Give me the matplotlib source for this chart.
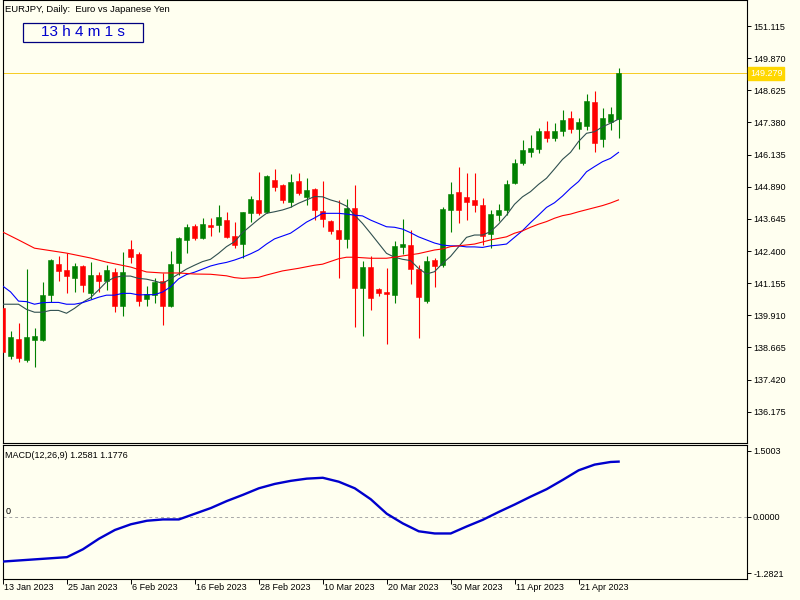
import matplotlib
matplotlib.use("Agg")
import matplotlib.pyplot as plt
import matplotlib.patches as mpatches
import matplotlib.transforms as mtrans
import numpy as np

plt.rcParams['font.family'] = ['Liberation Sans', 'DejaVu Sans']

# ---------------- data ----------------
opens = [140.21, 138.33, 138.99, 138.18, 138.95, 138.95, 140.70, 141.90, 141.67, 141.36,
         141.82, 140.77, 141.47, 141.24, 141.59, 140.27, 142.48, 142.29, 140.54, 140.70,
         141.24, 140.27, 141.94, 142.83, 143.37, 142.90, 143.41, 143.41, 143.60, 142.98,
         142.67, 143.87, 144.38, 143.91, 145.15, 144.96, 144.30, 145.11, 144.49, 144.80,
         143.95, 143.56, 143.21, 142.86, 144.07, 140.97, 141.78, 140.93, 140.81, 140.70,
         142.56, 142.63, 141.70, 140.46, 142.05, 141.86, 143.99, 144.69, 144.49, 144.38,
         144.18, 143.06, 143.79, 143.99, 145.03, 145.81, 146.24, 146.35, 147.05, 146.78,
         147.05, 147.55, 147.13, 147.24, 148.17, 146.74, 147.40, 147.51]
highs = [140.25, 139.30, 139.61, 141.70, 139.42, 141.20, 142.09, 142.21, 142.32, 141.94,
         141.84, 141.97, 141.59, 141.86, 141.74, 142.36, 142.83, 142.36, 141.05, 141.36,
         141.55, 142.40, 142.94, 143.45, 143.45, 143.68, 143.68, 144.18, 143.91, 143.52,
         143.93, 144.53, 145.46, 145.35, 145.58, 144.99, 145.39, 145.42, 145.23, 144.84,
         145.11, 143.60, 144.38, 144.41, 144.96, 142.01, 142.21, 140.97, 141.74, 142.79,
         143.64, 143.21, 141.86, 142.21, 142.13, 144.11, 145.07, 145.65, 145.42, 145.42,
         144.45, 143.99, 144.22, 145.15, 145.97, 146.70, 146.89, 147.17, 147.44, 147.36,
         147.86, 147.82, 147.55, 148.48, 148.60, 147.94, 147.98, 149.49]
lows = [138.45, 138.22, 138.10, 138.10, 137.91, 138.93, 140.43, 141.24, 140.77, 140.81,
        140.81, 140.54, 140.81, 140.89, 140.04, 139.88, 141.94, 140.27, 140.27, 140.39,
        139.54, 140.25, 141.47, 142.32, 142.83, 142.88, 142.98, 143.14, 142.92, 142.52,
        142.13, 143.52, 143.79, 143.89, 144.72, 144.26, 144.11, 144.57, 144.18, 143.60,
        143.33, 143.06, 141.36, 142.52, 139.46, 139.11, 140.12, 140.66, 138.80, 140.39,
        142.29, 141.12, 139.03, 140.39, 141.01, 141.78, 143.14, 143.49, 143.60, 143.91,
        142.63, 142.52, 143.56, 143.79, 145.01, 145.73, 146.04, 146.20, 146.62, 146.66,
        146.86, 146.97, 146.35, 147.09, 146.24, 146.43, 147.09, 146.78]
closes = [138.50, 139.07, 138.26, 139.07, 139.11, 140.70, 142.05, 141.63, 141.43, 141.82,
          141.08, 141.47, 141.24, 141.67, 140.27, 141.59, 142.17, 140.46, 140.74, 141.20,
          140.27, 141.90, 142.90, 143.33, 142.90, 143.45, 143.33, 143.72, 142.94, 142.63,
          143.91, 144.41, 143.87, 145.31, 144.88, 144.38, 145.07, 144.65, 144.76, 143.99,
          143.64, 143.17, 142.86, 144.07, 140.97, 141.78, 140.58, 140.77, 140.73, 142.59,
          142.67, 141.70, 140.62, 142.01, 141.82, 144.03, 144.61, 143.99, 144.30, 144.18,
          142.98, 143.83, 143.99, 145.00, 145.81, 146.31, 146.39, 147.05, 146.78, 147.05,
          147.47, 147.13, 147.40, 148.21, 146.58, 147.55, 147.71, 149.279]

ma_fast = [140.34, 140.34, 140.34, 140.14, 140.03, 140.03, 140.10, 140.10, 139.99, 140.18,
           140.41, 140.59, 140.89, 141.21, 141.38, 141.43, 141.43, 141.34, 141.31, 141.24,
           141.15, 141.32, 141.51, 141.70, 141.85, 141.99, 142.08, 142.31, 142.57, 142.76,
           143.11, 143.37, 143.63, 143.86, 143.92, 143.99, 144.09, 144.25, 144.38, 144.51,
           144.50, 144.38, 144.29, 144.14, 143.79, 143.47, 143.09, 142.70, 142.31, 142.16,
           142.08, 142.03, 141.73, 141.51, 141.60, 141.92, 142.19, 142.56, 142.93, 143.02,
           143.02, 143.15, 143.44, 143.79, 144.21, 144.50, 144.70, 144.98, 145.22, 145.58,
           145.95, 146.22, 146.64, 146.96, 147.02, 147.21, 147.35, 147.51]
ma_mid = [141.05, 140.82, 140.46, 140.44, 140.34, 140.40, 140.41, 140.41, 140.34, 140.34,
          140.40, 140.50, 140.61, 140.69, 140.69, 140.76, 140.76, 140.70, 140.71, 140.71,
          140.81, 141.01, 141.32, 141.49, 141.58, 141.70, 141.82, 141.90, 141.96, 142.05,
          142.16, 142.29, 142.44, 142.67, 142.87, 142.98, 143.09, 143.30, 143.52, 143.68,
          143.86, 143.86, 143.86, 143.83, 143.79, 143.76, 143.60, 143.47, 143.34, 143.32,
          143.25, 143.11, 142.95, 142.83, 142.71, 142.63, 142.60, 142.60, 142.56, 142.56,
          142.54, 142.60, 142.63, 142.67, 142.93, 143.19, 143.50, 143.79, 144.09, 144.27,
          144.53, 144.83, 145.09, 145.47, 145.67, 145.86, 145.99, 146.22]
ma_slow_idx = [0, 2, 4, 8, 11, 13, 16, 18, 20, 22, 24, 26, 28, 29, 30, 32, 33, 35, 36, 37,
               38, 39, 40, 42, 43, 44, 46, 48, 49, 50, 52, 54, 55, 56, 57, 59, 61, 62, 63,
               64, 65, 66, 67, 68, 69, 70, 71, 72, 73, 74, 75, 76, 77]
ma_slow = [143.14, 142.83, 142.51, 142.32, 142.13, 141.97, 141.78, 141.59, 141.55, 141.55,
           141.51, 141.50, 141.44, 141.37, 141.34, 141.38, 141.47, 141.63, 141.68, 141.73,
           141.79, 141.85, 141.89, 142.10, 142.16, 142.16, 142.12, 142.12, 142.16, 142.21,
           142.30, 142.44, 142.48, 142.57, 142.60, 142.67, 142.83, 142.89, 142.95, 143.09,
           143.18, 143.32, 143.44, 143.54, 143.67, 143.77, 143.83, 143.92, 144.00, 144.08,
           144.16, 144.26, 144.38]

macd_idx = [0, 4, 8, 10, 12, 14, 16, 18, 20, 22, 24, 26, 28, 30, 32, 34, 36, 38, 40, 42,
            44, 46, 48, 50, 52, 54, 56, 58, 60, 62, 64, 66, 68, 70, 72, 74, 76, 77]
macd_vals = [-1.02, -0.97, -0.92, -0.74, -0.50, -0.30, -0.17, -0.09, -0.06, -0.06,
             0.07, 0.20, 0.36, 0.50, 0.65, 0.75, 0.82, 0.87, 0.89, 0.80,
             0.65, 0.40, 0.07, -0.15, -0.33, -0.38, -0.38, -0.22, -0.07, 0.11,
             0.28, 0.46, 0.63, 0.84, 1.06, 1.19, 1.25, 1.2581]

price_ticks = [151.115, 149.870, 148.625, 147.380, 146.135, 144.890, 143.645,
               142.400, 141.155, 139.910, 138.665, 137.420, 136.175]
macd_ticks = [1.5003, 0.0, -1.2821]
macd_tick_labels = ['1.5003', '0.0000', '-1.2821']
date_idx = [0, 8, 16, 24, 32, 40, 48, 56, 64, 72]
date_labels = ['13 Jan 2023', '25 Jan 2023', '6 Feb 2023', '16 Feb 2023', '28 Feb 2023',
               '10 Mar 2023', '20 Mar 2023', '30 Mar 2023', '11 Apr 2023', '21 Apr 2023']
last_price = 149.279

# ---------------- style ----------------
BG = '#FFFFF0'
UP = '#008000'
DN = '#FF0000'
FS = 6.5
W, H = 800, 600

fig = plt.figure(figsize=(8, 6), dpi=100, facecolor=BG)

def fx(px):
    return px / W

def fy(py):
    return 1 - py / H

ax = fig.add_axes([fx(3), fy(443), fx(744), 443 / H], facecolor=BG)
ax2 = fig.add_axes([fx(3), fy(579), fx(744), 134 / H], facecolor=BG)

xl = (0.0625, 93.06)
for a in (ax, ax2):
    a.set_xlim(*xl)
    for s in a.spines.values():
        s.set_color('black')
        s.set_linewidth(0.8)
    a.yaxis.tick_right()
    a.tick_params(axis='y', direction='out', length=3.0, width=0.7, pad=1.4,
                  labelsize=FS, colors='black')

ax.set_ylim(134.965, 152.122)
ax2.set_ylim(-1.418, 1.637)

# candles
x = np.arange(len(opens))
o = np.array(opens); h = np.array(highs); l = np.array(lows); c = np.array(closes)
up = c >= o
cols = np.where(up, UP, DN)
ax.vlines(x, l, h, colors=cols, linewidth=0.8, zorder=3)
bottoms = np.minimum(o, c)
heights = np.maximum(np.abs(c - o), 0.03)
ax.bar(x, heights, bottom=bottoms, width=0.62, color=cols, edgecolor=cols,
       linewidth=0.4, zorder=4)

# moving averages
ax.plot(x, ma_fast, color='#2F4F4F', lw=0.8, zorder=5)
ax.plot(x, ma_mid, color='#0000FF', lw=0.8, zorder=5)
ax.plot(ma_slow_idx, ma_slow, color='#FF0000', lw=0.8, zorder=5)

# price line
ax.axhline(last_price, color='#F5C400', lw=0.6, zorder=2)
ax.set_yticks(price_ticks)
ax.set_yticklabels([f'{v:.3f}' for v in price_ticks])
ax.set_xticks([])
trans = mtrans.blended_transform_factory(ax.transAxes, ax.transData)
ax.text(1.004, last_price, f'{last_price:.3f}', transform=trans, fontsize=FS,
        color='white', va='center', ha='left',
        bbox=dict(boxstyle='square,pad=0.18', facecolor='#FFD700', edgecolor='#FFD700'))

# MACD
ax2.axhline(0, color='#A8A8A8', lw=0.7, ls=(0, (3, 3)), zorder=1)
ax2.plot(macd_idx, macd_vals, color='#0000CD', lw=1.7, zorder=3)
ax2.set_yticks(macd_ticks)
ax2.set_yticklabels(macd_tick_labels)
ax2.set_xticks(date_idx)
ax2.set_xticklabels(date_labels)
ax2.tick_params(axis='x', direction='out', length=3.6, width=0.7, pad=-0.6,
                labelsize=FS, colors='black')
for lbl in ax2.get_xticklabels():
    lbl.set_horizontalalignment('left')
    lbl.set_transform(lbl.get_transform() + mtrans.ScaledTranslation(1.2 / 100, 0, fig.dpi_scale_trans))

# texts
fig.text(fx(5), fy(10), 'EURJPY, Daily:  Euro vs Japanese Yen', fontsize=6.8,
         va='center', ha='left', color='black')
rect = mpatches.Rectangle((fx(23), fy(42)), fx(120), 19 / H, transform=fig.transFigure,
                          facecolor=BG, edgecolor='#000080', linewidth=0.9)
fig.patches.append(rect)
fig.text(fx(83), fy(32.5), '13 h 4 m 1 s', fontsize=11, color='#0000CD',
         va='center', ha='center')
fig.text(fx(5), fy(455), 'MACD(12,26,9) 1.2581 1.1776', fontsize=FS, va='center',
         ha='left', color='black')
fig.text(fx(6), fy(511), '0', fontsize=FS, va='center', ha='left', color='black')

fig.savefig('out.png', dpi=100, facecolor=BG)
